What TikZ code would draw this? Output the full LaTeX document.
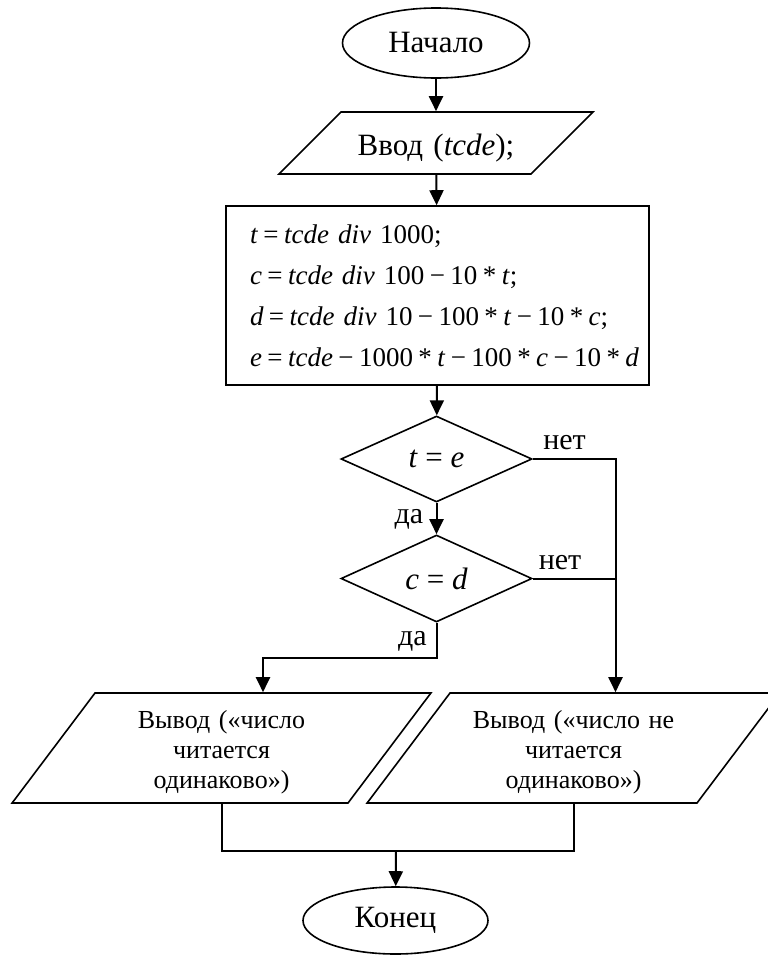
\documentclass[tikz,border=0pt]{standalone}
\usepackage{fontspec}
\setmainfont{Liberation Serif}
\usetikzlibrary{shapes.geometric,arrows.meta}

\tikzset{
  base/.style={draw, line width=1.6pt, inner sep=0pt},
  term/.style={base, ellipse, minimum width=187pt, minimum height=70pt, font=\fontsize{31}{36}\selectfont},
  io/.style={base, trapezium, align=center},
  proc/.style={base, rectangle},
  cond/.style={base, diamond, minimum width=191pt, minimum height=86pt, font=\fontsize{31}{36}\selectfont},
  flow/.style={line width=2pt, -{Triangle[width=14pt,length=15pt]}},
  link/.style={line width=2pt},
  lbl/.style={inner sep=0pt, font=\fontsize{30}{36}\selectfont},
  outtext/.style={font=\fontsize{26}{30}\selectfont}
}
\newcommand{\op}[1]{\hspace{0.2em}#1\hspace{0.2em}}
\newcommand{\ind}{\hspace*{24pt}}

\begin{document}
\begin{tikzpicture}[x=1pt,y=-1pt]
\useasboundingbox (0,0) rectangle (768,956);
% Blocks
\node[term] (start) at (436,43) {Начало};
\node[io, trapezium left angle=45, trapezium right angle=135,
  text width=190pt, font=\fontsize{31}{36}\selectfont]
  (input) at (436,143) {\rule[-19pt]{0pt}{62pt}Ввод (\textit{tcde});};
\node[proc, minimum width=423pt, minimum height=179pt,
  text width=423pt, align=left, font=\fontsize{27}{41.3}\selectfont]
  (calc) at (437.5,295.5)
  {\ind\rule{0pt}{37pt}\textit{t}\op{=}\textit{tcde div} 1000;\\
   \ind\textit{c}\op{=}\textit{tcde div} 100\op{−}10\op{*}\textit{t};\\
   \ind\textit{d}\op{=}\textit{tcde div} 10\op{−}100\op{*}\textit{t}\op{−}10\op{*}\textit{c};\\
   \ind\textit{e}\op{=}\textit{tcde}\op{−}1000\op{*}\textit{t}\op{−}100\op{*}\textit{c}\op{−}10\op{*}\textit{d}\rule[-18pt]{0pt}{18pt}};
\node[cond] (dec1) at (436.5,459) {\textit{t} = \textit{e}};
\node[cond, minimum height=87pt] (dec2) at (436.5,578.5) {\textit{c} = \textit{d}};
\node[io, trapezium left angle=53, trapezium right angle=127,
  text width=253pt, outtext]
  (outL) at (221.5,748)
  {\rule{0pt}{35pt}Вывод («число\\читается\\одинаково»)\rule[-15pt]{0pt}{15pt}};
\node[io, trapezium left angle=53, trapezium right angle=127,
  text width=247pt, outtext]
  (outR) at (573.5,748)
  {\rule{0pt}{35pt}Вывод («число не\\читается\\одинаково»)\rule[-15pt]{0pt}{15pt}};
\node[term, minimum width=185pt, minimum height=67pt] (stop) at (395.5,920.5) {Конец};

% Labels
\node[lbl] (yes1) at (409,519) {да};
\node[lbl] (yes2) at (412.5,641.5) {да};
\node[lbl] (no1) at (564.5,442.5) {нет};
\node[lbl] (no2) at (560,562.5) {нет};

% Connectors
\coordinate (rail) at (615.5,459);
\coordinate (bendL) at (263,658);
\coordinate (join) at (396,851);
\draw[flow] (start) -- (input);
\draw[flow] (input) -- (calc);
\draw[flow] (calc) -- (dec1);
\draw[flow] (dec1) -- (dec2);
\draw[flow] (dec1.east) -| (rail |- outR.north);
\draw[link] (dec2.east) -- (dec2.east -| rail);
\draw[flow] (dec2.south) |- (bendL) -- (bendL |- outL.north);
\draw[link] (outL.south) |- (join) -| (outR.south);
\draw[flow] (join) -- (stop);
\end{tikzpicture}
\end{document}
